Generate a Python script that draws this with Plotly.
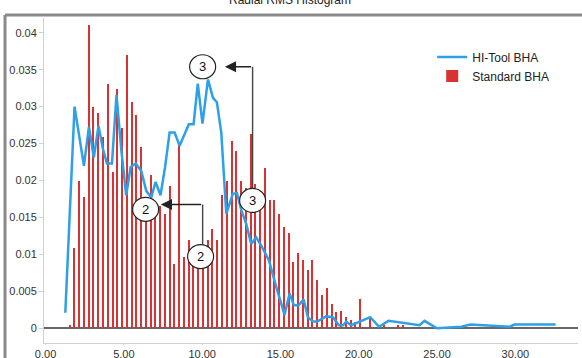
import plotly.graph_objects as go

# ---- data ----
bin_centers = [1.55, 1.85, 2.16, 2.46, 2.77, 3.07, 3.37, 3.68, 3.98, 4.29, 4.59, 4.89, 5.20, 5.50,
               5.81, 6.11, 6.41, 6.72, 7.02, 7.33, 7.63, 7.93, 8.24, 8.54, 8.85, 9.15, 9.45, 9.76,
               10.06, 10.37, 10.67, 10.97, 11.28, 11.58, 11.89, 12.19, 12.49, 12.80, 13.10, 13.41,
               13.71, 14.01, 14.32, 14.62, 14.93, 15.23, 15.53, 15.84, 16.14, 16.45, 16.75, 17.05,
               17.36, 17.66, 17.97, 18.27, 18.57, 18.88, 19.18, 19.49, 19.79, 20.09, 20.40, 20.70,
               21.01, 21.31, 21.61, 21.92, 22.22, 22.53, 22.83]
standard_bha = [0.0004, 0.0108, 0.0200, 0.0178, 0.0411, 0.0299, 0.0291, 0.0259, 0.0331, 0.0211,
                0.0324, 0.0271, 0.0370, 0.0306, 0.0289, 0.0245, 0.0160, 0.0208, 0.0170, 0.0165,
                0.0155, 0.0192, 0.0087, 0.0250, 0.0096, 0.0119, 0.0110, 0.0105, 0.0110, 0.0120,
                0.0135, 0.0119, 0.0180, 0.0200, 0.0254, 0.0240, 0.0200, 0.0190, 0.0263, 0.0195,
                0.0180, 0.0217, 0.0173, 0.0173, 0.0155, 0.0137, 0.0129, 0.0090, 0.0102, 0.0092,
                0.0079, 0.0092, 0.0065, 0.0045, 0.0054, 0.0033, 0.0022, 0.0024, 0.0015, 0.0011,
                0.0008, 0.0039, 0.0002, 0.0013, 0.0, 0.0, 0.0005, 0.0, 0.0, 0.0005, 0.0005]

hitool_x = [1.26, 1.85, 2.45, 2.77, 3.08, 3.38, 3.66, 3.92, 4.24, 4.53, 4.83, 5.15, 5.43, 5.75,
            6.11, 6.43, 6.75, 7.02, 7.34, 7.63, 7.92, 8.24, 8.56, 8.85, 9.15, 9.45, 9.72, 10.02,
            10.37, 10.69, 10.94, 11.22, 11.54, 11.96, 12.22, 12.50, 12.82, 13.13, 13.45, 13.77,
            14.26, 14.73, 15.26, 15.58, 15.86, 16.16, 16.48, 16.75, 17.07, 17.35, 17.92, 18.35,
            18.73, 19.00, 19.20, 19.52, 19.84, 20.73, 21.30, 21.90, 23.88, 24.20, 24.99, 26.55,
            27.12, 29.63, 29.95, 32.57]
hitool_y = [0.0021, 0.0300, 0.0220, 0.0273, 0.0231, 0.0274, 0.0243, 0.0223, 0.0223, 0.0316,
            0.0243, 0.0180, 0.0218, 0.0223, 0.0213, 0.0186, 0.0177, 0.0198, 0.0180, 0.0218,
            0.0265, 0.0265, 0.0247, 0.0261, 0.0276, 0.0276, 0.0331, 0.0277, 0.0337, 0.0312,
            0.0306, 0.0265, 0.0155, 0.0182, 0.0183, 0.0160, 0.0141, 0.0114, 0.0123, 0.0112,
            0.0092, 0.0056, 0.0018, 0.0047, 0.0031, 0.0031, 0.0039, 0.0015, 0.0009, 0.0009,
            0.0016, 0.0015, 0.0004, 0.0004, 0.0009, 0.0004, 0.0007, 0.0015, 0.0002, 0.0010,
            0.0004, 0.0010, 0.0000, 0.0002, 0.0005, 0.0002, 0.0005, 0.0005]

x_ticks = [0, 5, 10, 15, 20, 25, 30]
title_text = "Radial RMS Histogram"

# callouts: (label, x, y)
callouts = [("3", 10.03, 0.0354), ("3", 13.22, 0.0173), ("2", 6.39, 0.0161), ("2", 9.90, 0.0097)]

FONT = "Liberation Sans, Arial, sans-serif"

fig = go.Figure()
fig.add_trace(go.Bar(x=bin_centers, y=standard_bha, width=0.085, name="Standard BHA", legendrank=2,
                     marker=dict(color="#d83232", line=dict(width=0))))
fig.add_trace(go.Scatter(x=hitool_x, y=hitool_y, mode="lines", name="HI-Tool BHA", legendrank=1,
                         line=dict(color="#2ea0e8", width=2.5)))

shapes = []
annotations = []
# border of chart frame
shapes.append(dict(type="line", xref="paper", yref="paper", x0=-0.073, x1=-0.073, y0=-0.06, y1=1.009,
                   line=dict(color="#8a8a8a", width=3)))
shapes.append(dict(type="line", xref="paper", yref="paper", x0=-0.073, x1=1.01, y0=1.009, y1=1.009,
                   line=dict(color="#8a8a8a", width=3)))

# connectors
conn = dict(color="#444444", width=1.4)
shapes.append(dict(type="line", xref="x", yref="y", x0=13.22, x1=13.22, y0=0.0189, y1=0.0354, line=conn))
shapes.append(dict(type="line", xref="x", yref="y", x0=10.03, x1=10.03, y0=0.0113, y1=0.01675, line=conn))
annotations.append(dict(x=11.45, y=0.0354, ax=13.22, ay=0.0354, xref="x", yref="y", axref="x", ayref="y",
                        text="", showarrow=True, arrowhead=2, arrowsize=1.6, arrowwidth=1.4,
                        arrowcolor="#222222"))
annotations.append(dict(x=7.36, y=0.01675, ax=10.03, ay=0.01675, xref="x", yref="y", axref="x", ayref="y",
                        text="", showarrow=True, arrowhead=2, arrowsize=1.6, arrowwidth=1.4,
                        arrowcolor="#222222"))

for lab, cx, cy in callouts:
    shapes.append(dict(type="circle", xref="x", yref="y", xsizemode="pixel", ysizemode="pixel",
                       xanchor=cx, yanchor=cy, x0=-13, x1=13, y0=-12, y1=12,
                       fillcolor="white", line=dict(color="#222222", width=1.2), layer="above"))
    annotations.append(dict(x=cx, y=cy, xref="x", yref="y", text=lab, showarrow=False,
                            font=dict(family=FONT, size=13, color="#111111")))

annotations.append(dict(x=0.46, y=1.055, xref="paper", yref="paper", text=title_text, showarrow=False,
                        yanchor="middle", font=dict(family=FONT, size=12, color="#222222")))

fig.update_layout(
    width=582, height=358,
    margin=dict(l=44, r=4, t=18, b=15, autoexpand=False),
    paper_bgcolor="white", plot_bgcolor="white",
    font=dict(family=FONT, size=11, color="#333333"),
    showlegend=True,
    legend=dict(x=0.727, y=0.925, xanchor="left", yanchor="top",
                font=dict(family=FONT, size=12, color="#222222"), bgcolor="rgba(0,0,0,0)",
                itemwidth=30),
    bargap=0,
    shapes=shapes,
    annotations=annotations,
    xaxis=dict(range=[-0.1, 34], tickvals=x_ticks, tickformat=".2f", showgrid=False, automargin=False,
               showline=True, linecolor="#d0d0d0", linewidth=1, ticks="outside", ticklen=1,
               tickcolor="#d0d0d0", zeroline=False, tickfont=dict(size=11, color="#333333")),
    yaxis=dict(range=[-0.002, 0.042], dtick=0.005, showgrid=False, showline=True, automargin=False,
               linecolor="#d0d0d0", linewidth=1, ticks="outside", ticklen=4, tickcolor="#d0d0d0",
               zeroline=True, zerolinecolor="#666666", zerolinewidth=2,
               tickfont=dict(size=11, color="#333333")),
)

fig.write_html("out.html", config={"displayModeBar": False},
               post_script="document.body.style.margin='0px';document.body.style.overflow='hidden';")
